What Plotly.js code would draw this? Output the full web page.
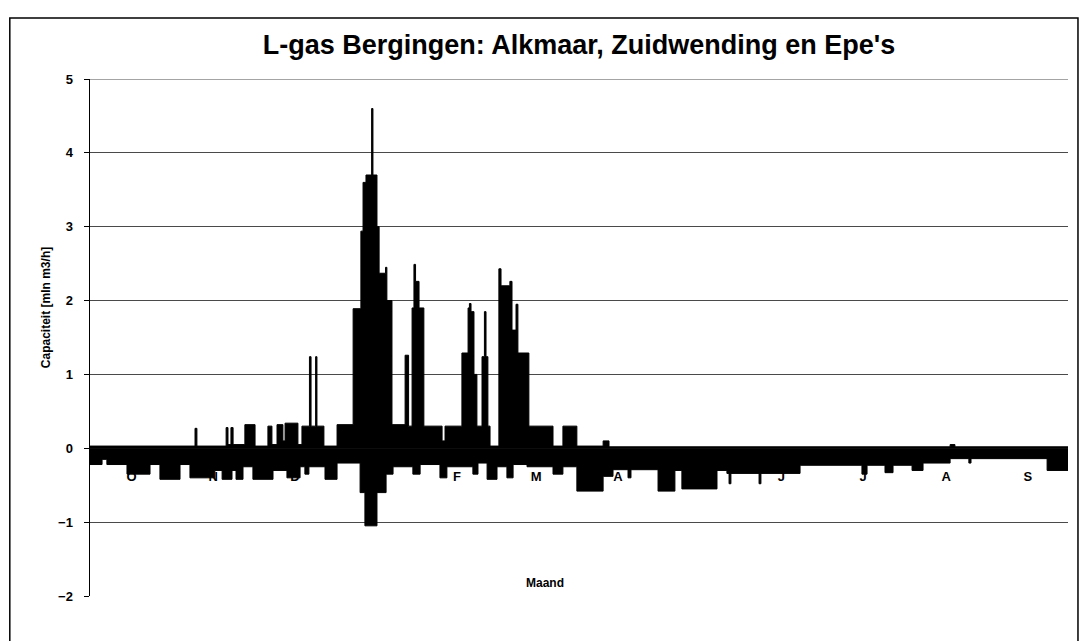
<!DOCTYPE html>
<html>
<head>
<meta charset="utf-8">
<script src="https://cdn.plot.ly/plotly-3.0.1.min.js"></script>
<style>html,body{margin:0;padding:0;background:#fff}#chart{width:1082px;height:641px}</style>
</head>
<body>
<div id="chart"></div>
<script>
// Day of gas year (0 = 1 October) where each step starts, and the capacity (mln m3/h)
var posDay = [0, 39.2, 39.9, 50.8, 51.5, 52.6, 53.4, 57.8, 61.6, 66.4, 67.9, 69.8, 72.0, 72.8, 77.6,
  79.1, 81.9, 82.5, 84.2, 84.7, 87.3, 92.2, 98.2, 101.1, 101.9, 103.0, 105.1, 105.6, 107.1, 107.9,
  110.3, 110.8, 112.7, 117.6, 118.9, 120.2, 120.9, 121.5, 122.8, 124.6, 131.4, 132.5, 138.8, 141.1,
  141.6, 142.2, 143.3, 144.4, 146.3, 147.2, 147.8, 148.5, 149.3, 152.6, 153.4, 156.7, 157.5, 159.0,
  159.7, 163.8, 172.8, 176.5, 181.7, 191.5, 193.7, 321.0, 322.8, 365.0];
var posVal = [0.03, 0.27, 0.03, 0.28, 0.05, 0.28, 0.05, 0.32, 0.03, 0.30, 0.05, 0.32, 0.10, 0.34, 0.05,
  0.30, 1.24, 0.30, 1.24, 0.30, 0.03, 0.32, 1.89, 2.94, 3.60, 3.70, 4.60, 3.70, 3.00, 2.37,
  2.45, 2.00, 0.32, 1.26, 0.30, 1.90, 2.49, 2.26, 1.90, 0.30, 0.10, 0.30, 1.29, 1.90,
  1.96, 1.85, 1.00, 0.30, 1.24, 1.85, 1.24, 0.30, 0.03, 2.43, 2.20, 2.26, 1.60, 1.95,
  1.29, 0.30, 0.03, 0.30, 0.03, 0.10, 0.02, 0.05, 0.02, 0.02];

var negDay = [0, 4.5, 6.3, 13.8, 22.4, 26.1, 33.6, 37.3, 43.7, 46.6, 49.3, 53.0, 54.5, 57.1, 60.8,
  68.3, 73.5, 78.4, 80.2, 81.7, 87.7, 92.2, 100.8, 102.6, 107.1, 110.5, 113.1, 120.5, 123.2, 130.6,
  133.2, 142.9, 144.8, 148.2, 151.9, 155.6, 157.9, 163.1, 172.8, 176.5, 181.7, 191.5, 195.2, 200.8,
  201.9, 212.0, 218.3, 220.9, 234.0, 237.7, 238.5, 239.2, 249.7, 250.4, 265.0, 288.1, 290.0, 296.7,
  299.7, 306.8, 310.9, 321.0, 328.0, 328.8, 357.2, 365.0];
var negVal = [-0.22, -0.15, -0.22, -0.35, -0.22, -0.42, -0.22, -0.40, -0.40, -0.30, -0.42, -0.30, -0.42, -0.25, -0.42,
  -0.30, -0.40, -0.25, -0.35, -0.25, -0.42, -0.20, -0.60, -1.05, -0.60, -0.35, -0.25, -0.35, -0.22, -0.40,
  -0.25, -0.35, -0.20, -0.42, -0.25, -0.40, -0.22, -0.25, -0.35, -0.25, -0.58, -0.38, -0.29, -0.40,
  -0.29, -0.58, -0.30, -0.55, -0.30, -0.34, -0.48, -0.34, -0.48, -0.34, -0.23, -0.35, -0.23, -0.33,
  -0.23, -0.30, -0.20, -0.14, -0.20, -0.14, -0.30, -0.30];

var monthLabels = ['O', 'N', 'D', 'J', 'F', 'M', 'A', 'M', 'J', 'J', 'A', 'S'];
var monthDays = [31, 30, 31, 31, 28, 31, 30, 31, 30, 31, 31, 30];
var yTicks = [-2, -1, 0, 1, 2, 3, 4, 5];

var monthMid = [];
var acc = 0;
for (var i = 0; i < monthDays.length; i++) { monthMid.push(acc + monthDays[i] / 2); acc += monthDays[i]; }

var traceStyle = {type: 'scatter', mode: 'lines', line: {shape: 'hv', color: '#000', width: 1},
  fill: 'tozeroy', fillcolor: '#000', hoverinfo: 'skip', showlegend: false};
var data = [
  Object.assign({x: posDay, y: posVal}, traceStyle),
  Object.assign({x: negDay, y: negVal}, traceStyle)
];

var yTop = yTicks[yTicks.length - 1];

var layout = {
  width: 1082, height: 641,
  margin: {l: 90, r: 14, t: 79, b: 45},
  paper_bgcolor: '#fff', plot_bgcolor: '#fff',
  font: {family: 'Liberation Sans, Arial, sans-serif', color: '#000'},
  title: {text: "L-gas Bergingen: Alkmaar, Zuidwending en Epe's", font: {size: 27, family: 'Liberation Sans, Arial, sans-serif', weight: 'bold', color: '#000'},
    x: 0.5, xanchor: 'center', y: 0.93, yanchor: 'middle', xref: 'paper'},
  xaxis: {range: [0, 365], anchor: 'free', position: 2 / 7, showgrid: false, zeroline: false, showline: false,
    tickmode: 'array', tickvals: monthMid, ticktext: monthLabels, ticks: '', ticklabelstandoff: 19,
    tickfont: {size: 13, weight: 'bold', color: '#000'}},
  yaxis: {range: [yTicks[0], yTop], tickmode: 'array', tickvals: yTicks, showgrid: true, gridcolor: '#4a4a4a', gridwidth: 1,
    zeroline: false, showline: true, linecolor: '#000', linewidth: 1.5, ticks: 'outside', ticklen: 5, tickcolor: '#000',
    tickfont: {size: 13, weight: 'bold', color: '#000'}, ticklabelstandoff: 8},
  annotations: [
    {text: 'Capaciteit [mln m3/h]', textangle: -90, xref: 'paper', yref: 'y', x: -0.054, y: 1.9,
      showarrow: false, font: {size: 12, weight: 'bold', color: '#000'}},
    {text: 'Maand', xref: 'paper', yref: 'paper', x: 0.465, y: 0.025, yanchor: 'middle',
      showarrow: false, font: {size: 12, weight: 'bold', color: '#000'}}
  ],
  shapes: [
    {type: 'line', xref: 'paper', yref: 'y', x0: 0, x1: 1, y0: yTop, y1: yTop, line: {color: '#4a4a4a', width: 1}, layer: 'below'},
    {type: 'rect', xref: 'paper', yref: 'paper', x0: -0.082, x1: 1.0102, y0: -0.2, y1: 1.118, line: {color: '#000', width: 1.5}, fillcolor: 'rgba(0,0,0,0)', layer: 'below'}
  ]
};

Plotly.newPlot('chart', data, layout, {staticPlot: true, displayModeBar: false});
</script>
</body>
</html>
